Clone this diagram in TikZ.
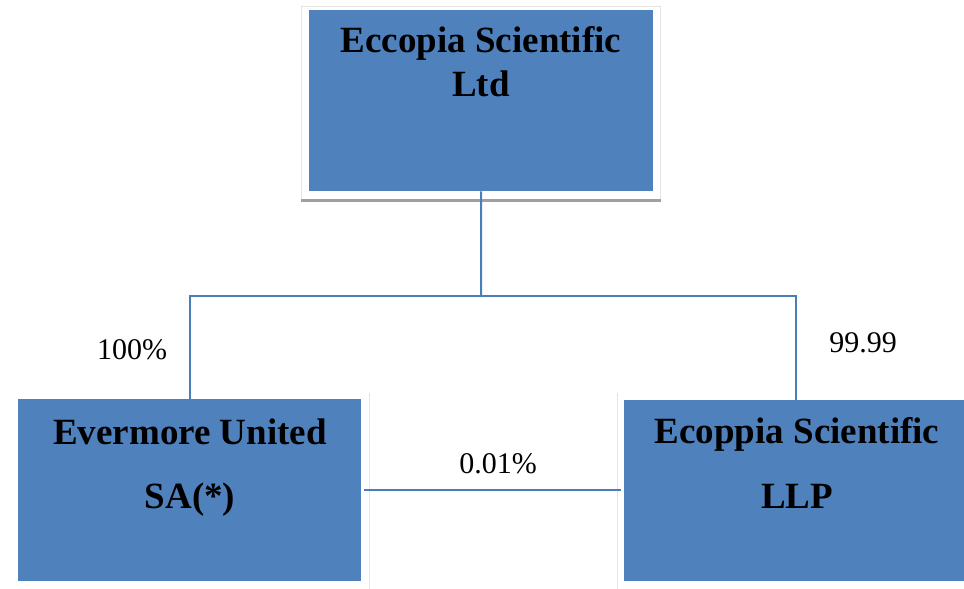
\documentclass[tikz,border=0pt]{standalone}
\usepackage{fontspec}
\setmainfont{Liberation Serif}
\definecolor{boxblue}{RGB}{79,129,189}
\definecolor{lineblue}{RGB}{74,126,187}
\definecolor{framegray}{RGB}{228,228,228}
\definecolor{shadowgray}{RGB}{160,160,160}
\begin{document}
\begin{tikzpicture}[x=1bp,y=-1bp,
  entity/.style={draw=none,fill=boxblue,inner sep=0pt,anchor=north west},
  boxtext/.style={font=\fontsize{37bp}{40bp}\selectfont\bfseries,inner sep=0pt,anchor=base},
  pct/.style={font=\fontsize{30bp}{34bp}\selectfont,inner sep=0pt,anchor=base},
  link/.style={draw=lineblue,line width=2bp}]
\useasboundingbox (0,0) rectangle (964,589);
% frames
\draw[framegray,line width=1bp] (301.5,200) -- (301.5,7) -- (660,7) -- (660,200);
\draw[shadowgray,line width=3bp] (301,201) -- (661,201);
\draw[framegray,line width=1bp] (369,393) -- (369,589);
\draw[framegray,line width=1bp] (617,393) -- (617,589);
% boxes
\node[entity,minimum width=344bp,minimum height=181bp] (top) at (309,10) {};
\node[entity,minimum width=343bp,minimum height=182bp] (left) at (18,399) {};
\node[entity,minimum width=344bp,minimum height=181bp] (right) at (624,400) {};
% box texts
\node[boxtext] (t1) at (481,53) {Eccopia Scientific};
\node[boxtext] (t2) at (481,97) {Ltd};
\node[boxtext] (l1) at (190,444) {Evermore United};
\node[boxtext] (l2) at (190,508) {SA(*)};
\node[boxtext] (r1) at (797,443) {Ecoppia Scientific};
\node[boxtext] (r2) at (797,508) {LLP};
% connectors
\coordinate (j) at (481,296);
\draw[link] (top.south) -- (j);
\draw[link] (left.north) |- (j) -| (right.north);
\draw[link,shorten <=3bp,shorten >=3bp] (left.east |- 0,490) -- (right.west |- 0,490);
% percentages
\node[pct] (p1) at (132,359) {100\%};
\node[pct] (p2) at (863,352) {99.99};
\node[pct] (p3) at (498,473) {0.01\%};
\end{tikzpicture}
\end{document}
